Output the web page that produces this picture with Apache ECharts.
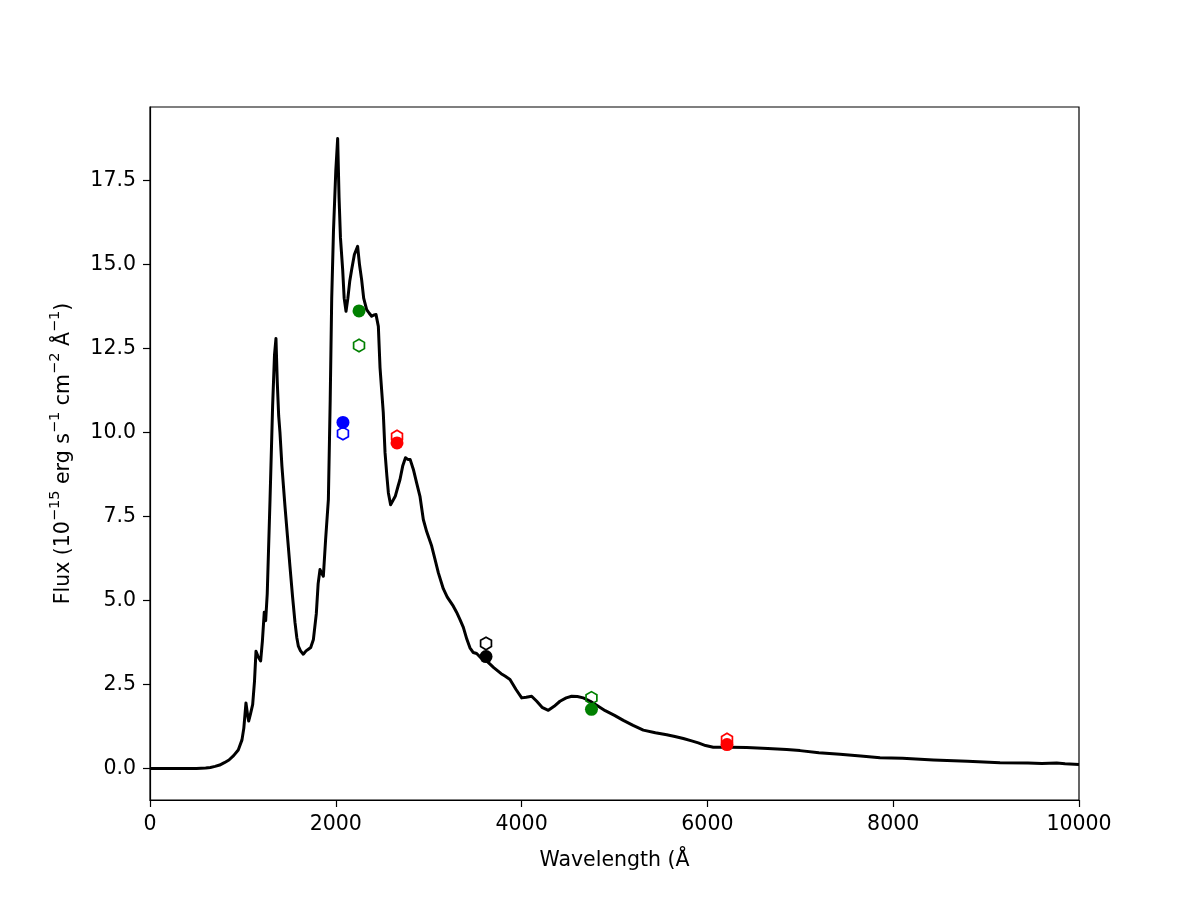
<!DOCTYPE html>
<html>
<head>
<meta charset="utf-8">
<script src="https://cdn.jsdelivr.net/npm/echarts@6/dist/echarts.min.js"></script>
<style>html,body{margin:0;padding:0;background:#fff}#c{width:1200px;height:900px}</style>
</head>
<body>
<div id="c"></div>
<script>
// Spectrum (wavelength in Å, flux in 1e-15 erg/s/cm2/Å)
const specWave = [0,300,500,600,650,700,750,800,850,900,950,990,1010,1033,1050,1062,1080,1105,1125,1141,1160,1191,1210,1230,1245,1262,1292,1320,1340,1356,1370,1385,1399,1420,1453,1480,1507,1535,1561,1580,1597,1620,1650,1680,1705,1730,1759,1790,1810,1830,1850,1866,1890,1920,1940,1956,1975,2000,2020,2035,2050,2074,2090,2110,2130,2150,2171,2200,2235,2255,2278,2300,2332,2360,2386,2410,2433,2458,2476,2495,2511,2530,2550,2566,2590,2610,2640,2670,2691,2720,2750,2775,2800,2835,2870,2906,2942,2978,3032,3070,3104,3157,3200,3265,3300,3337,3373,3410,3444,3480,3516,3560,3623,3700,3780,3821,3875,3940,4001,4050,4108,4163,4220,4288,4350,4413,4480,4539,4600,4664,4740,4808,4900,5000,5095,5200,5310,5440,5562,5650,5741,5830,5902,5980,6063,6250,6423,6650,6853,6997,7200,7427,7650,7858,8100,8432,8800,9150,9450,9600,9760,9850,10000];
const specFlux = [0,0,0,0.01,0.03,0.06,0.1,0.17,0.25,0.38,0.55,0.85,1.2,1.95,1.6,1.41,1.6,1.9,2.6,3.49,3.35,3.2,3.8,4.65,4.4,5.2,8.0,10.8,12.3,12.8,11.5,10.5,10.0,9.0,7.8,6.9,6.0,5.1,4.34,3.9,3.64,3.5,3.4,3.5,3.55,3.6,3.84,4.6,5.5,5.92,5.8,5.72,6.8,8.0,11.0,14.0,16.0,17.8,18.75,17.0,15.8,14.85,14.0,13.61,14.0,14.5,14.85,15.3,15.54,15.0,14.55,14.0,13.66,13.55,13.46,13.5,13.51,13.16,11.93,11.2,10.59,9.4,8.7,8.2,7.85,7.8,8.1,8.4,8.6,9.0,9.25,9.2,9.2,8.9,8.5,8.1,7.41,7.05,6.62,6.2,5.82,5.35,5.1,4.83,4.65,4.43,4.2,3.85,3.59,3.45,3.42,3.3,3.2,3.0,2.82,2.75,2.65,2.35,2.1,2.12,2.15,2.0,1.82,1.73,1.85,2.0,2.1,2.15,2.14,2.1,2.0,1.88,1.72,1.58,1.43,1.28,1.14,1.06,1.0,0.95,0.89,0.82,0.76,0.68,0.63,0.63,0.62,0.59,0.56,0.53,0.47,0.42,0.37,0.32,0.3,0.25,0.21,0.17,0.16,0.15,0.16,0.14,0.12];

// Photometric points
const blueWave = [2077];
const blueFilled = [10.30];
const blueHollow = [9.97];
const greenWave = [2250, 4752];
const greenFilled = [13.62, 1.76];
const greenHollow = [12.59, 2.10];
const redWave = [2659, 6211];
const redFilled = [9.69, 0.71];
const redHollow = [9.88, 0.86];
const blackWave = [3617];
const blackFilled = [3.33];
const blackHollow = [3.72];

const xTicks = [0, 2000, 4000, 6000, 8000, 10000];
const yTicks = [0, 2.5, 5, 7.5, 10, 12.5, 15, 17.5];

const zip = (a, b) => a.map((v, i) => [v, b[i]]);
const hex = 'path://M0,-1 L0.866,-0.5 L0.866,0.5 L0,1 L-0.866,0.5 L-0.866,-0.5 Z';
const FONT = 'DejaVu Sans';
const FS = 20.5;

function hollow(name, wave, vals, color) {
  return {
    name, type: 'scatter', data: zip(wave, vals), symbol: hex, symbolSize: 12.5,
    symbolKeepAspect: true, z: 3,
    itemStyle: { color: 'rgba(0,0,0,0)', borderColor: color, borderWidth: 1.7, opacity: 1 }
  };
}
function filled(name, wave, vals, color) {
  return {
    name, type: 'scatter', data: zip(wave, vals), symbol: 'circle', symbolSize: 13, z: 4,
    itemStyle: { color: color, opacity: 1 }
  };
}

const chart = echarts.init(document.getElementById('c'), null, { renderer: 'canvas' });
chart.setOption({
  animation: false,
  backgroundColor: '#ffffff',
  grid: { left: 150, right: 121, top: 107, bottom: 100, show: true, borderColor: '#000', borderWidth: 1.2, backgroundColor: 'transparent' },
  xAxis: {
    type: 'value', min: 0, max: 10000, interval: 2000,
    name: 'Wavelength (Å', nameLocation: 'middle', nameGap: 50,
    nameTextStyle: { fontFamily: FONT, fontSize: FS, color: '#000' },
    axisLine: { show: true, onZero: false, lineStyle: { color: '#000', width: 1.2 } },
    axisTick: { show: true, length: 7, lineStyle: { color: '#000', width: 1.2 } },
    axisLabel: { fontFamily: FONT, fontSize: FS, color: '#000', margin: 14, formatter: v => String(v) },
    splitLine: { show: false }
  },
  yAxis: {
    type: 'value', min: -0.94, max: 19.69,
    name: '{n|Flux (10}{s|−15}{n| erg s}{s|−1}{n| cm}{s|−2}{n| Å}{s|−1}{n|)}',
    nameLocation: 'middle', nameGap: 76, nameRotate: 90,
    nameTextStyle: { fontFamily: FONT, fontSize: FS, color: '#000',
      rich: {
        n: { fontFamily: FONT, fontSize: FS, color: '#000', lineHeight: 26, verticalAlign: 'bottom' },
        s: { fontFamily: FONT, fontSize: 14.5, color: '#000', lineHeight: 14, verticalAlign: 'top' }
      } },
    axisLine: { show: true, onZero: false, lineStyle: { color: '#000', width: 1.2 } },
    axisTick: { show: true, length: 7, customValues: yTicks, lineStyle: { color: '#000', width: 1.2 } },
    axisLabel: { fontFamily: FONT, fontSize: FS, color: '#000', margin: 14, customValues: yTicks,
      formatter: v => v.toFixed(1) },
    splitLine: { show: false }
  },
  series: [
    { name: 'spectrum', type: 'line', data: zip(specWave, specFlux), showSymbol: false, symbol: 'none',
      lineStyle: { color: '#000', width: 3, join: 'round' }, z: 2 },
    hollow('blueH', blueWave, blueHollow, '#0000ff'),
    hollow('greenH', greenWave, greenHollow, '#008000'),
    hollow('redH', redWave, redHollow, '#ff0000'),
    hollow('blackH', blackWave, blackHollow, '#000000'),
    filled('blueF', blueWave, blueFilled, '#0000ff'),
    filled('greenF', greenWave, greenFilled, '#008000'),
    filled('redF', redWave, redFilled, '#ff0000'),
    filled('blackF', blackWave, blackFilled, '#000000')
  ]
});
</script>
</body>
</html>
